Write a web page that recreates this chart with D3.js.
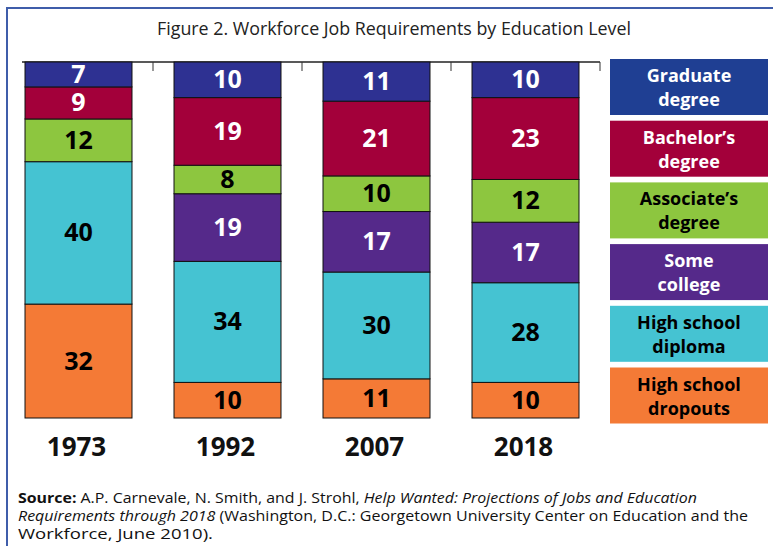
<!DOCTYPE html>
<html><head><meta charset="utf-8">
<script src="https://cdn.jsdelivr.net/npm/d3@7"></script>
<style>html,body{margin:0;padding:0;background:#fff;}svg{display:block;}</style>
</head><body>
<script>
const years = ["1973", "1992", "2007", "2018"];
const levels = ["Graduate degree", "Bachelor’s degree", "Associate’s degree", "Some college", "High school diploma", "High school dropouts"];
const graduate  = [7, 10, 11, 10];
const bachelor  = [9, 19, 21, 23];
const associate = [12, 8, 10, 12];
const someCollege = [0, 19, 17, 17];
const diploma   = [40, 34, 30, 28];
const dropouts  = [32, 10, 11, 10];
const legendLines = [["Graduate", "degree"], ["Bachelor’s", "degree"], ["Associate’s", "degree"], ["Some", "college"], ["High school", "diploma"], ["High school", "dropouts"]];
const barColors = ["#2E3192", "#A3003A", "#8DC63F", "#55298A", "#45C3D2", "#F47A36"];
const legendColors = ["#1F3F93", "#A3003A", "#8DC63F", "#55298A", "#45C3D2", "#F47A36"];
const labelColors = ["#fff", "#fff", "#000", "#fff", "#000", "#000"];
const titleText = "Figure 2. Workforce Job Requirements by Education Level";

const W = 773, H = 546;
const svg = d3.select("body").append("svg").attr("width", W).attr("height", H);
const font = "'Open Sans', 'Noto Sans', sans-serif";

// frame
svg.append("path").attr("d", `M7,${H} L7,8 L${W},8`).attr("fill", "none")
  .attr("stroke", "#3F5DAA").attr("stroke-width", 2);

// title
svg.append("text").attr("x", 394).attr("y", 35).attr("text-anchor", "middle")
  .attr("font-family", font).attr("font-size", 18).attr("fill", "#222")
  .attr("textLength", 474).attr("lengthAdjust", "spacingAndGlyphs")
  .text(titleText);

const series = [graduate, bachelor, associate, someCollege, diploma, dropouts];
const rows = years.map((y, i) => {
  const o = {year: y};
  levels.forEach((l, k) => o[l] = series[k][i]);
  return o;
});
const stackKeys = levels.slice().reverse();
const stacked = d3.stack().keys(stackKeys)(rows);

const x = d3.scaleBand().domain(years).range([4, 600]).paddingInner(0.282).paddingOuter(0.141);
const y = d3.scaleLinear().domain([0, 100]).range([418, 62]);

// top axis line with ticks
const axisG = svg.append("g");
axisG.append("line").attr("x1", 22).attr("x2", 600).attr("y1", 62).attr("y2", 62)
  .attr("stroke", "#222").attr("stroke-width", 1.5);
const tickXs = years.slice(1).map(yr => x(yr) - x.step() * x.paddingInner() / 2).concat([600]);
axisG.selectAll("line.tk").data(tickXs).join("line").attr("class", "tk")
  .attr("x1", d => d).attr("x2", d => d).attr("y1", 62).attr("y2", 71)
  .attr("stroke", "#333").attr("stroke-width", 1);

stacked.forEach(layer => {
  const k = levels.indexOf(layer.key);
  const g = svg.append("g");
  layer.forEach((d, i) => {
    const v = d[1] - d[0];
    if (v <= 0) return;
    const yTop = y(d[1]), yBot = y(d[0]);
    g.append("rect").attr("x", x(years[i])).attr("width", x.bandwidth())
      .attr("y", yTop).attr("height", yBot - yTop)
      .attr("fill", barColors[k]).attr("stroke", "#111").attr("stroke-width", 1);
    g.append("text").attr("x", x(years[i]) + x.bandwidth() / 2)
      .attr("y", (yTop + yBot) / 2 + 8.5).attr("text-anchor", "middle")
      .attr("font-family", font).attr("font-weight", 700).attr("font-size", 25)
      .attr("fill", labelColors[k]).text(v);
  });
});

// year labels
svg.selectAll("text.yr").data(years).join("text").attr("class", "yr")
  .attr("x", d => x(d) + x.bandwidth() / 2 - 2).attr("y", 456).attr("text-anchor", "middle")
  .attr("font-family", font).attr("font-weight", 700).attr("font-size", 26).attr("fill", "#111")
  .text(d => d);

// legend
const lg = svg.append("g");
levels.forEach((l, k) => {
  const top = 59 + k * 61.7;
  lg.append("rect").attr("x", 610).attr("y", top).attr("width", 158).attr("height", 56)
    .attr("fill", legendColors[k]);
  legendLines[k].forEach((t, j) => {
    lg.append("text").attr("x", 689).attr("y", top + 23 + j * 24).attr("text-anchor", "middle")
      .attr("font-family", font).attr("font-weight", 700).attr("font-size", 18)
      .attr("fill", labelColors[k]).text(t);
  });
});

// source
const src = svg.append("g").attr("font-family", font).attr("font-size", 14).attr("fill", "#111");
const l1 = src.append("text").attr("x", 18).attr("y", 503).attr("textLength", 679).attr("lengthAdjust", "spacingAndGlyphs");
l1.append("tspan").attr("font-weight", 700).text("Source:");
l1.append("tspan").text(" A.P. Carnevale, N. Smith, and J. Strohl, ");
l1.append("tspan").attr("font-style", "italic").text("Help Wanted: Projections of Jobs and Education");
const l2 = src.append("text").attr("x", 18).attr("y", 521).attr("textLength", 730).attr("lengthAdjust", "spacingAndGlyphs");
l2.append("tspan").attr("font-style", "italic").text("Requirements through 2018");
l2.append("tspan").text(" (Washington, D.C.: Georgetown University Center on Education and the");
src.append("text").attr("x", 18).attr("y", 539).attr("textLength", 195).attr("lengthAdjust", "spacingAndGlyphs")
  .text("Workforce, June 2010).");
</script>
</body></html>
